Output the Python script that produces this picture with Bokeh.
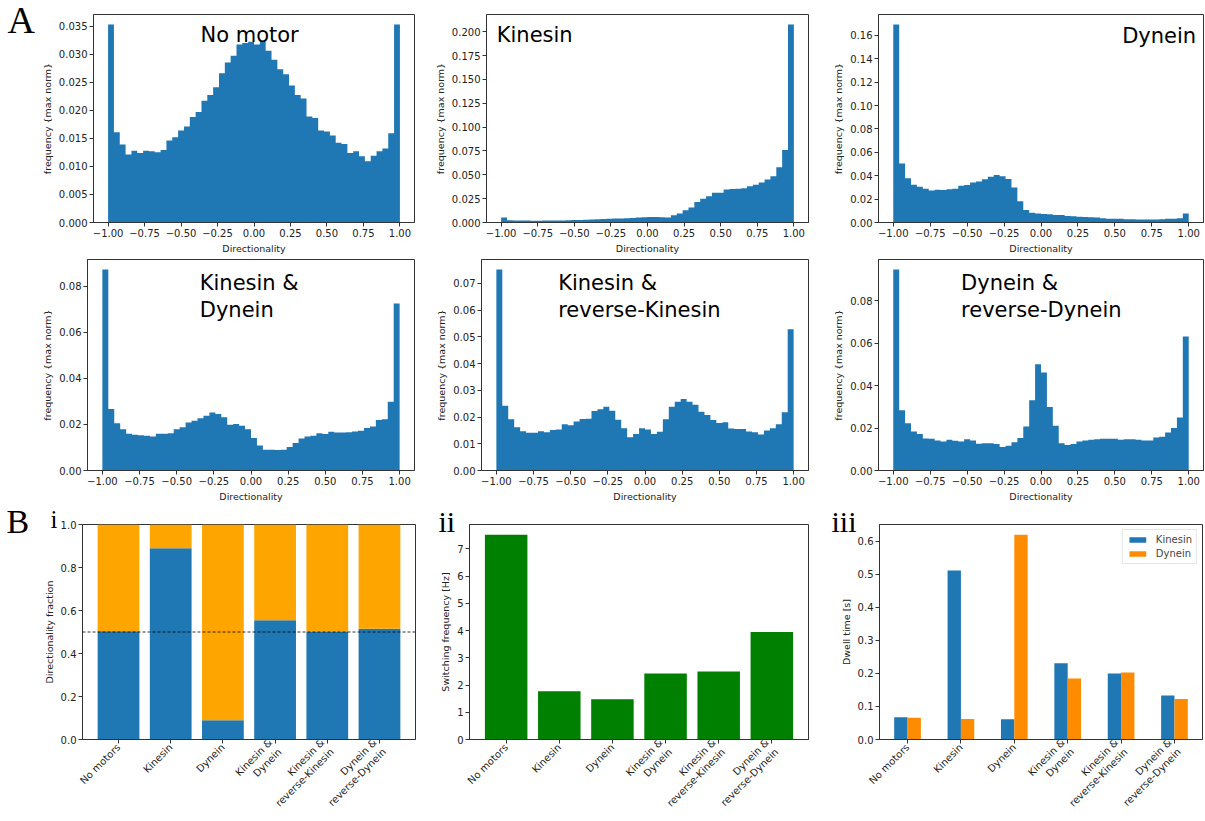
import math
import numpy as np
from bokeh.plotting import figure
from bokeh.layouts import column, row
from bokeh.models import Range1d, FixedTicker, Label, Span, CustomJSTickFormatter
from bokeh.embed import file_html
from bokeh.resources import INLINE

# ---------------- data ----------------
bin_edges = np.linspace(-1.0, 1.0, 51)

hist_no_motor = [0.0353, 0.0161, 0.0139, 0.0121, 0.0128, 0.0124, 0.0128, 0.0127, 0.0125, 0.0129,
                 0.0146, 0.0152, 0.0164, 0.0171, 0.0188, 0.0197, 0.0217, 0.0227, 0.0241, 0.0266,
                 0.0285, 0.0297, 0.0317, 0.0320, 0.0322, 0.0317, 0.0323, 0.0306, 0.0290, 0.0273,
                 0.0264, 0.0244, 0.0227, 0.0221, 0.0189, 0.0186, 0.0164, 0.0162, 0.0155, 0.0142,
                 0.0140, 0.0124, 0.0127, 0.0118, 0.0109, 0.0119, 0.0127, 0.0132, 0.0159, 0.0353]

hist_kinesin = [0.0052, 0.0024, 0.0020, 0.0020, 0.0020, 0.0019, 0.0019, 0.0020, 0.0021, 0.0022,
                0.0022, 0.0024, 0.0025, 0.0027, 0.0030, 0.0032, 0.0035, 0.0038, 0.0040, 0.0042,
                0.0043, 0.0045, 0.0048, 0.0052, 0.0055, 0.0058, 0.0057, 0.0055, 0.0052, 0.0076,
                0.0094, 0.0128, 0.0156, 0.0215, 0.0250, 0.0274, 0.0312, 0.0312, 0.0347, 0.0350,
                0.0354, 0.0360, 0.0380, 0.0395, 0.0420, 0.0450, 0.0485, 0.0580, 0.0760, 0.2077]

hist_dynein = [0.1694, 0.0504, 0.0378, 0.0323, 0.0306, 0.0289, 0.0273, 0.0281, 0.0278, 0.0284,
               0.0289, 0.0314, 0.0320, 0.0342, 0.0351, 0.0370, 0.0392, 0.0406, 0.0395, 0.0373,
               0.0300, 0.0181, 0.0106, 0.0083, 0.0078, 0.0072, 0.0070, 0.0064, 0.0064, 0.0056,
               0.0053, 0.0050, 0.0047, 0.0045, 0.0042, 0.0036, 0.0033, 0.0031, 0.0031, 0.0028,
               0.0028, 0.0025, 0.0025, 0.0025, 0.0025, 0.0028, 0.0031, 0.0033, 0.0036, 0.0078]

hist_kin_dyn = [0.0872, 0.0267, 0.0205, 0.0179, 0.0159, 0.0155, 0.0153, 0.0151, 0.0148, 0.0159,
                0.0159, 0.0162, 0.0179, 0.0188, 0.0208, 0.0216, 0.0227, 0.0238, 0.0252, 0.0245,
                0.0231, 0.0199, 0.0202, 0.0194, 0.0179, 0.0141, 0.0109, 0.0090, 0.0090, 0.0089,
                0.0090, 0.0102, 0.0119, 0.0139, 0.0148, 0.0151, 0.0162, 0.0158, 0.0168, 0.0165,
                0.0165, 0.0166, 0.0169, 0.0172, 0.0184, 0.0191, 0.0219, 0.0222, 0.0298, 0.0725]

hist_kin_revkin = [0.0752, 0.0242, 0.0192, 0.0162, 0.0147, 0.0141, 0.0141, 0.0147, 0.0143, 0.0152,
                   0.0153, 0.0173, 0.0169, 0.0183, 0.0193, 0.0194, 0.0223, 0.0229, 0.0239, 0.0224,
                   0.0190, 0.0158, 0.0124, 0.0137, 0.0158, 0.0153, 0.0137, 0.0145, 0.0192, 0.0239,
                   0.0257, 0.0268, 0.0257, 0.0246, 0.0220, 0.0208, 0.0189, 0.0178, 0.0181, 0.0157,
                   0.0155, 0.0155, 0.0146, 0.0143, 0.0135, 0.0150, 0.0158, 0.0173, 0.0218, 0.0529]

hist_dyn_revdyn = [0.0948, 0.0284, 0.0223, 0.0184, 0.0172, 0.0151, 0.0150, 0.0142, 0.0137, 0.0145,
                   0.0140, 0.0137, 0.0147, 0.0142, 0.0126, 0.0128, 0.0129, 0.0125, 0.0111, 0.0117,
                   0.0133, 0.0153, 0.0207, 0.0331, 0.0501, 0.0462, 0.0299, 0.0211, 0.0129, 0.0120,
                   0.0125, 0.0137, 0.0142, 0.0145, 0.0147, 0.0150, 0.0150, 0.0150, 0.0145, 0.0147,
                   0.0148, 0.0145, 0.0142, 0.0142, 0.0156, 0.0159, 0.0179, 0.0200, 0.0250, 0.0632]

categories = ["No motors", "Kinesin", "Dynein", "Kinesin &\nDynein",
              "Kinesin &\nreverse-Kinesin", "Dynein &\nreverse-Dynein"]
plus_fraction = [0.503, 0.890, 0.090, 0.555, 0.500, 0.515]
minus_fraction = [0.497, 0.110, 0.910, 0.445, 0.500, 0.485]
switching_frequency = [7.52, 1.77, 1.48, 2.42, 2.50, 3.95]
dwell_kinesin = [0.067, 0.512, 0.061, 0.231, 0.200, 0.133]
dwell_dynein = [0.066, 0.062, 0.620, 0.185, 0.203, 0.123]

BLUE = "#1f77b4"
ORANGE = "#ffa500"
DARKORANGE = "#ff8c00"
GREEN = "#008000"
AX = "#333333"
FONT = "DejaVu Sans"
SERIF = "Liberation Serif"


def fixed_fmt(decimals):
    return CustomJSTickFormatter(
        code="return tick.toFixed(%d).replace('-', '\\u2212');" % decimals)


def base_fig(w, h, left, right, top, bottom, xr, yr):
    p = figure(width=w, height=h, x_range=Range1d(*xr), y_range=Range1d(*yr),
               output_backend="svg", toolbar_location=None,
               min_border_left=left, min_border_right=right,
               min_border_top=top, min_border_bottom=bottom)
    p.grid.visible = False
    p.outline_line_color = AX
    p.outline_line_width = 1
    p.background_fill_color = "white"
    p.border_fill_color = "white"
    for ax in p.axis:
        ax.axis_line_color = AX
        ax.major_tick_line_color = AX
        ax.major_tick_out = 4
        ax.major_tick_in = 0
        ax.minor_tick_out = 0
        ax.minor_tick_in = 0
        ax.major_label_text_font = FONT
        ax.major_label_text_font_size = "10px"
        ax.major_label_text_color = "#222222"
        ax.axis_label_text_font = FONT
        ax.axis_label_text_font_size = "9.5px"
        ax.axis_label_text_font_style = "normal"
        ax.axis_label_text_color = "#222222"
        ax.major_label_standoff = 2
        ax.axis_label_standoff = 3
    return p


def hist_fig(values, yticks, ydec, w, h, left, right, top, bottom):
    ymax = max(values) * 1.05
    p = base_fig(w, h, left, right, top, bottom, (-1.1, 1.1), (0, ymax))
    p.varea_step(x=bin_edges, y1=np.zeros(len(bin_edges)),
                 y2=np.append(values, values[-1]), step_mode="after",
                 fill_color=BLUE)
    p.xaxis.ticker = FixedTicker(ticks=[-1, -0.75, -0.5, -0.25, 0, 0.25, 0.5, 0.75, 1])
    p.xaxis.formatter = fixed_fmt(2)
    p.yaxis.ticker = FixedTicker(ticks=yticks)
    p.yaxis.formatter = fixed_fmt(ydec)
    p.xaxis.axis_label = "Directionality"
    p.yaxis.axis_label = "frequency {max norm}"
    return p, ymax


def title_label(p, text, x, y, align="left"):
    p.add_layout(Label(x=x, y=y, text=text, text_font=FONT, text_font_size="21px",
                       text_color="black", text_align=align, text_baseline="alphabetic"))


def panel_letter(p, text, cx, cy, size):
    # panel letters sit in the left margin, positioned in canvas pixels
    p.add_layout(Label(x=cx, y=cy, x_units="canvas", y_units="canvas", text=text,
                       text_font=SERIF, text_font_size=size, text_color="black",
                       text_align="left", text_baseline="alphabetic"), "left")


# ---------------- row A1 ----------------
H1 = 256
p1, m1 = hist_fig(hist_no_motor, [0.005 * i for i in range(8)], 3, 430, H1, 93, 16, 14, 32)
title_label(p1, "No motor", -0.03, 0.9 * m1, "center")
panel_letter(p1, "A", 7, 19, "38px")

p2, m2 = hist_fig(hist_kinesin, [0.025 * i for i in range(9)], 3, 400, H1, 56, 22, 14, 32)
title_label(p2, "Kinesin", -1.03, 0.9 * m2)

p3, m3 = hist_fig(hist_dynein, [0.02 * i for i in range(9)], 2, 375, H1, 46, 2, 14, 32)
title_label(p3, "Dynein", 1.05, 0.895 * m3, "right")

# ---------------- row A2 ----------------
H2 = 248
p4, m4 = hist_fig(hist_kin_dyn, [0.02 * i for i in range(5)], 2, 430, H2, 87, 16, 3, 32)
title_label(p4, "Kinesin &", -0.345, 0.888 * m4)
title_label(p4, "Dynein", -0.345, 0.762 * m4)

p5, m5 = hist_fig(hist_kin_revkin, [0.01 * i for i in range(8)], 2, 400, H2, 51, 22, 3, 32)
title_label(p5, "Kinesin &", -0.584, 0.888 * m5)
title_label(p5, "reverse-Kinesin", -0.584, 0.762 * m5)

p6, m6 = hist_fig(hist_dyn_revdyn, [0.02 * i for i in range(5)], 2, 375, H2, 46, 2, 3, 32)
title_label(p6, "Dynein &", -0.541, 0.888 * m6)
title_label(p6, "reverse-Dynein", -0.541, 0.762 * m6)

# ---------------- row B ----------------
H3 = 317
xs = np.arange(len(categories))
cat_overrides = {int(i): c for i, c in enumerate(categories)}


def category_axis(p):
    p.xaxis.ticker = FixedTicker(ticks=list(range(len(categories))))
    p.xaxis.major_label_overrides = cat_overrides
    p.xaxis.major_label_orientation = math.pi / 4


# i: directionality fraction
b1 = base_fig(420, H3, 82, 5, 20, 81, (-0.69, 5.69), (0, 1.0))
b1.vbar(x=xs, width=0.8, bottom=0, top=plus_fraction, fill_color=BLUE, line_color=None)
b1.vbar(x=xs, width=0.8, bottom=plus_fraction,
        top=[a + b for a, b in zip(plus_fraction, minus_fraction)],
        fill_color=ORANGE, line_color=None)
b1.add_layout(Span(location=0.5, dimension="width", line_color="black",
                   line_dash="3 2", line_width=0.8))
category_axis(b1)
b1.yaxis.ticker = FixedTicker(ticks=[0, 0.2, 0.4, 0.6, 0.8, 1.0])
b1.yaxis.formatter = fixed_fmt(1)
b1.yaxis.axis_label = "Directionality fraction"
panel_letter(b1, "B", 6, 17, "34px")
panel_letter(b1, "i", 50, 15, "25px")

# ii: switching frequency
b2 = base_fig(392, H3, 47, 4, 17, 79, (-0.69, 5.69), (0, max(switching_frequency) * 1.05))
b2.vbar(x=xs, width=0.8, bottom=0, top=switching_frequency, fill_color=GREEN, line_color=None)
category_axis(b2)
b2.yaxis.ticker = FixedTicker(ticks=list(range(8)))
b2.yaxis.formatter = fixed_fmt(0)
b2.yaxis.axis_label = "Switching frequency [Hz]"
panel_letter(b2, "ii", 18, 17, "30px")

# iii: dwell times
b3 = base_fig(393, H3, 55, 3, 18, 82, (-0.525, 5.525),
              (0, max(dwell_kinesin + dwell_dynein) * 1.05))
b3.vbar(x=xs - 0.125, width=0.25, bottom=0, top=dwell_kinesin,
        fill_color=BLUE, line_color=None, legend_label="Kinesin")
b3.vbar(x=xs + 0.125, width=0.25, bottom=0, top=dwell_dynein,
        fill_color=DARKORANGE, line_color=None, legend_label="Dynein")
category_axis(b3)
b3.yaxis.ticker = FixedTicker(ticks=[0, 0.1, 0.2, 0.3, 0.4, 0.5, 0.6])
b3.yaxis.formatter = fixed_fmt(1)
b3.yaxis.axis_label = "Dwell time [s]"
lg = b3.legend[0]
lg.location = "top_right"
lg.margin = 5
lg.padding = 4
lg.spacing = 3
lg.glyph_width = 21
lg.glyph_height = 7
lg.label_height = 10
lg.label_standoff = 8
lg.label_text_font = FONT
lg.label_text_font_size = "10px"
lg.border_line_color = "#cccccc"
lg.background_fill_alpha = 0.8
panel_letter(b3, "iii", 19, 17, "30px")

layout = column(row(p1, p2, p3), row(p4, p5, p6), row(b1, b2, b3))
open("out.html", "w").write(file_html(layout, INLINE))
